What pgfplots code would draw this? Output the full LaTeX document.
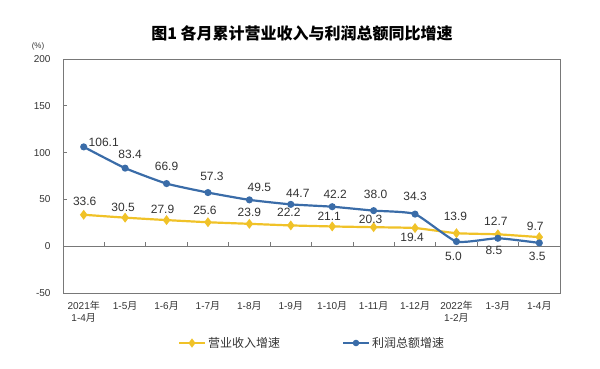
\documentclass[border=0pt]{standalone}
\usepackage{fontspec}
\setmainfont{Liberation Sans}
\newfontfamily\cjk{Noto Sans CJK SC}
\usepackage{pgfplots}
\usepackage{pgfplotstable}
\pgfplotsset{compat=1.18}
\definecolor{cyel}{RGB}{240,194,40}
\definecolor{cblu}{RGB}{58,108,168}
\definecolor{cfr}{RGB}{120,120,120}
\definecolor{ctx}{RGB}{51,51,51}

\pgfplotstableread{
x y lab dx dy
0 33.6 33.6 1 13
1 30.5 30.5 -2 10
2 27.9 27.9 -4 11
3 25.6 25.6 -3 12
4 23.9 23.9 0 11
5 22.2 22.2 -2 13
6 21.1 21.1 -3 10
7 20.3 20.3 -3 8
8 19.4 19.4 -3 -9
9 13.9 13.9 -1 17
10 12.7 12.7 -2 13
11 9.7 9.7 -4 11
}\revenue

\pgfplotstableread{
x y lab dx dy
0 106.1 106.1 20 5
1 83.4 83.4 5 14
2 66.9 66.9 0 17
3 57.3 57.3 4 16
4 49.5 49.5 10 13
5 44.7 44.7 7 11
6 42.2 42.2 3 12
7 38.0 38.0 2 16
8 34.3 34.3 0 18
9 5.0 5.0 -3 -15
10 8.5 8.5 -4 -12
11 3.5 3.5 -2 -13
}\profit

\begin{document}
\begin{tikzpicture}
\path[use as bounding box] (0,0) rectangle (600pt,368pt);
\node[font=\cjk\bfseries\fontsize{16}{18}\selectfont, text=black] at (302pt,335pt) {图1 各月累计营业收入与利润总额同比增速};
\node[font=\fontsize{8}{9}\selectfont, text=ctx] at (38pt,322pt) {(\%)};
\begin{axis}[
  at={(63pt,75pt)}, anchor=south west, scale only axis,
  width=497pt, height=234pt,
  xmin=-0.5, xmax=11.5, ymin=-50, ymax=200,
  ytick={-50,0,50,100,150,200},
  xtick={0,...,11},
  xticklabels={{2021{\cjk 年}\\1-4{\cjk 月}},{1-5{\cjk 月}},{1-6{\cjk 月}},{1-7{\cjk 月}},{1-8{\cjk 月}},{1-9{\cjk 月}},{1-10{\cjk 月}},{1-11{\cjk 月}},{1-12{\cjk 月}},{2022{\cjk 年}\\1-2{\cjk 月}},{1-3{\cjk 月}},{1-4{\cjk 月}}},
  x tick style={draw=none},
  ytick pos=left, tick align=inside, major tick length=4pt,
  axis line style={cfr, line width=0.8pt},
  y tick style={cfr, line width=0.8pt},
  ticklabel style={font=\fontsize{10}{12}\selectfont, text=ctx},
  xticklabel style={align=center, yshift=-5pt},
  yticklabel style={xshift=-9pt},
  /pgf/number format/assume math mode=true,
  clip=false,
  legend columns=2,
  legend style={at={(0.501,-0.2137)}, anchor=center, draw=none, fill=none,
    font=\cjk\fontsize{12}{14}\selectfont, text=ctx,
    /tikz/every even column/.append style={column sep=60pt}},
  legend image code/.code={\draw[mark repeat=2,mark phase=2] plot coordinates {(0pt,0pt)(13pt,0pt)(26pt,0pt)};},
]
\draw[cfr, line width=0.8pt] (axis cs:-0.5,0) -- (axis cs:11.5,0);
\pgfplotsinvokeforeach{0.5,1.5,2.5,3.5,4.5,5.5,6.5,7.5,8.5,9.5,10.5}{
  \draw[cfr, line width=0.8pt] (axis cs:#1,0) -- ++(0pt,4pt);
}
\addlegendimage{cyel, line width=2pt, mark=diamond*, mark size=3pt}
\addlegendentry{营业收入增速}
\addlegendimage{cblu, line width=2pt, mark=*, mark size=2.2pt}
\addlegendentry{利润总额增速}

\addplot[forget plot, cyel, line width=2.2pt, smooth, tension=0.3, mark=diamond*, mark size=3.2pt,
  nodes near coords, point meta=explicit symbolic,
  visualization depends on={\thisrow{dx}\as\dx},
  visualization depends on={\thisrow{dy}\as\dy},
  every node near coord/.append style={anchor=center, xshift=\dx pt, yshift=\dy pt,
    font=\fontsize{12}{14}\selectfont, text=ctx, inner sep=0pt}]
  table[x=x, y=y, meta=lab]{\revenue};

\addplot[forget plot, cblu, line width=2.2pt, smooth, tension=0.3, mark=*, mark size=2.4pt,
  nodes near coords, point meta=explicit symbolic,
  visualization depends on={\thisrow{dx}\as\dx},
  visualization depends on={\thisrow{dy}\as\dy},
  every node near coord/.append style={anchor=center, xshift=\dx pt, yshift=\dy pt,
    font=\fontsize{12}{14}\selectfont, text=ctx, inner sep=0pt}]
  table[x=x, y=y, meta=lab]{\profit};
\end{axis}
\end{tikzpicture}
\end{document}
